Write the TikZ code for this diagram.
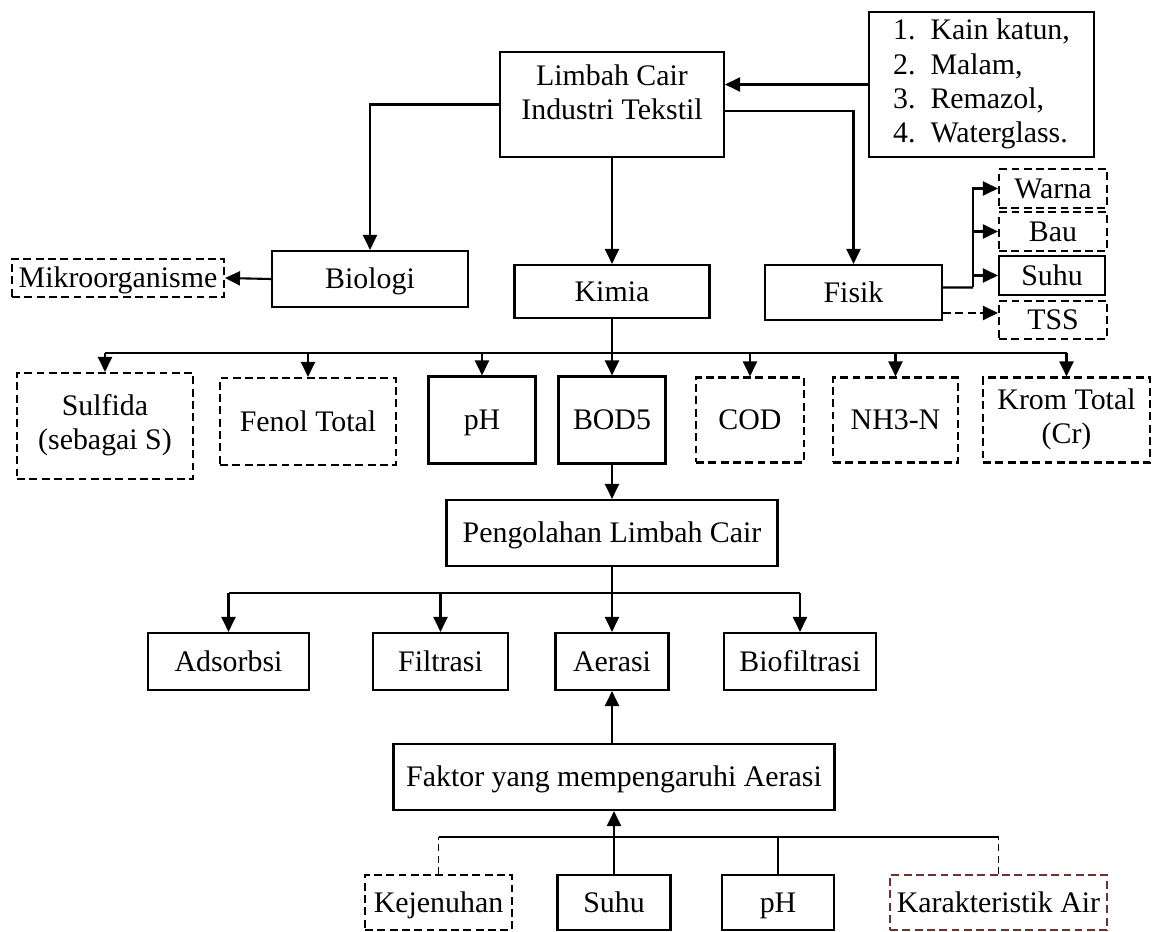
\documentclass[tikz,border=0pt]{standalone}
\usepackage{fontspec}
\setmainfont{Liberation Serif}
\usetikzlibrary{arrows.meta}
\definecolor{karakred}{RGB}{112,48,48}

\begin{document}
\begin{tikzpicture}[
    x=0.02cm, y=-0.02cm,
    font=\fontsize{17}{19.5}\selectfont,
    arr/.style={-{Triangle[length=0.30cm,width=0.28cm]}, line width=1.2pt},
    garis/.style={line width=1.2pt},
    tipis/.style={line width=0.6pt},
    kotak/.style={
      draw, line width=1.2pt, align=center, inner sep=1pt,
      execute at begin node={\rule[-0.25em]{0pt}{1.16em}}
    },
    putus/.style={
      kotak, dash pattern=on 4.5pt off 2.5pt
    },
    putustipis/.style={tipis, dash pattern=on 4pt off 2.5pt}
  ]
    \useasboundingbox (0,0) rectangle (1156,932);

    % --- Sumber limbah ---
    \node[kotak, minimum width=4.48cm, minimum height=2.10cm]
      (limbah) at (612,104.5) {};
    \node[align=center] (limbahtxt) at (612,92)
      {Limbah Cair\\Industri Tekstil};
    \node[kotak, minimum width=4.50cm, minimum height=2.90cm]
      (bahan) at (981.5,84.5)
      {\begin{tabular}{@{}l@{\hspace{0.3cm}}l@{}}
        1. & Kain katun,\\
        2. & Malam,\\
        3. & Remazol,\\
        4. & Waterglass.
      \end{tabular}};

    % --- Karakteristik ---
    \node[kotak, minimum width=3.92cm, minimum height=1.12cm]
      (biologi) at (370,279) {Biologi};
    \node[putus, minimum width=4.24cm, minimum height=0.76cm]
      (mikro) at (118,278) {Mikroorganisme};
    \node[kotak, minimum width=3.90cm, minimum height=1.06cm]
      (kimia) at (612,291.5) {Kimia};
    \node[kotak, minimum width=3.54cm, minimum height=1.10cm]
      (fisik) at (853.5,292.5) {Fisik};
    \node[putus, minimum width=2.16cm, minimum height=0.74cm]
      (warna) at (1053,188.5) {Warna};
    \node[putus, minimum width=2.16cm, minimum height=0.74cm]
      (bau) at (1053,231.5) {Bau};
    \node[kotak, minimum width=2.12cm, minimum height=0.74cm]
      (suhuf) at (1052,275.5) {Suhu};
    \node[putus, minimum width=2.16cm, minimum height=0.72cm]
      (tss) at (1053,320) {TSS};
    \coordinate (fj) at (973,287.5);

    % --- Parameter kimia ---
    \coordinate (bus1) at (612,353);
    \node[putus, minimum width=3.52cm, minimum height=2.12cm]
      (sulfida) at (105,426) {Sulfida\\(sebagai S)};
    \node[putus, minimum width=3.52cm, minimum height=1.74cm]
      (fenol) at (308,421.5) {Fenol Total};
    \node[kotak, minimum width=2.14cm, minimum height=1.74cm]
      (phk) at (482,420) {pH};
    \node[kotak, minimum width=2.14cm, minimum height=1.74cm]
      (bod) at (612,420) {BOD5};
    \node[putus, minimum width=2.16cm, minimum height=1.70cm]
      (cod) at (750,420) {COD};
    \node[putus, minimum width=2.50cm, minimum height=1.70cm]
      (nh3) at (895.5,420) {NH3-N};
    \node[putus, minimum width=3.34cm, minimum height=1.70cm]
      (krom) at (1066.5,420) {Krom Total\\(Cr)};

    % --- Pengolahan ---
    \node[kotak, minimum width=6.62cm, minimum height=1.32cm]
      (olah) at (612,533) {Pengolahan Limbah Cair};
    \coordinate (bus2) at (612,593);
    \node[kotak, minimum width=3.22cm, minimum height=1.14cm]
      (adsorbsi) at (228.5,661.5) {Adsorbsi};
    \node[kotak, minimum width=2.70cm, minimum height=1.14cm]
      (filtrasi) at (440.5,661.5) {Filtrasi};
    \node[kotak, minimum width=2.26cm, minimum height=1.14cm]
      (aerasi) at (612,661.5) {Aerasi};
    \node[kotak, minimum width=3.04cm, minimum height=1.14cm]
      (biofiltrasi) at (800,661.5) {Biofiltrasi};

    % --- Faktor aerasi ---
    \node[kotak, minimum width=8.82cm, minimum height=1.32cm]
      (faktor) at (614,777) {Faktor yang mempengaruhi Aerasi};
    \coordinate (bus3) at (614,837);
    \node[putus, minimum width=2.94cm, minimum height=1.10cm]
      (jenuh) at (438.5,902.5) {Kejenuhan};
    \node[kotak, minimum width=2.26cm, minimum height=1.10cm]
      (suhua) at (614,902.5) {Suhu};
    \node[kotak, minimum width=2.24cm, minimum height=1.10cm]
      (pha) at (778,902.5) {pH};
    \node[putus, draw=karakred, minimum width=4.34cm, minimum height=1.10cm]
      (karak) at (998.5,902.5) {Karakteristik Air};

    % --- Panah ---
    \draw[arr] (bahan.west) -- (bahan.west -| limbah.east);
    \draw[arr] (limbah.west) -| (biologi.north);
    \draw[arr] (limbah.south) -- (kimia.north);
    \draw[arr] ([yshift=-0.13cm]limbah.east) -| (fisik.north);
    \draw[arr] (biologi.west) -- (mikro.east);
    \draw[garis] ([yshift=0.1cm]fisik.east) -- (fj);
    \draw[arr] (fj) |- (warna.west);
    \draw[arr] (fj) |- (bau.west);
    \draw[arr] (fj) -- (fj |- suhuf.west) -- (suhuf.west);
    \draw[arr, dash pattern=on 4.5pt off 2.5pt]
      ([yshift=-0.41cm]fisik.east) -- ([yshift=-0.41cm]fisik.east -| tss.west);

    \draw[garis] (sulfida.north |- bus1) -- (krom.north |- bus1);
    \draw[arr] (kimia.south) -- (bod.north);
    \draw[arr] (sulfida.north |- bus1) -- (sulfida.north);
    \draw[arr] (fenol.north |- bus1) -- (fenol.north);
    \draw[arr] (phk.north |- bus1) -- (phk.north);
    \draw[arr] (cod.north |- bus1) -- (cod.north);
    \draw[arr] (nh3.north |- bus1) -- (nh3.north);
    \draw[arr] (krom.north |- bus1) -- (krom.north);
    \draw[arr] (bod.south) -- (olah.north);

    \draw[garis] (adsorbsi.north |- bus2) -- (biofiltrasi.north |- bus2);
    \draw[arr] (olah.south) -- (aerasi.north);
    \draw[arr] (adsorbsi.north |- bus2) -- (adsorbsi.north);
    \draw[arr] (filtrasi.north |- bus2) -- (filtrasi.north);
    \draw[arr] (biofiltrasi.north |- bus2) -- (biofiltrasi.north);
    \draw[arr] (faktor.north -| aerasi.south) -- (aerasi.south);

    \draw[garis] (jenuh.north |- bus3) -- (karak.north |- bus3);
    \draw[arr] (suhua.north) -- (faktor.south);
    \draw[putustipis] (jenuh.north) -- (jenuh.north |- bus3);
    \draw[tipis] (pha.north) -- (pha.north |- bus3);
    \draw[putustipis] (karak.north) -- (karak.north |- bus3);
  \end{tikzpicture}
\end{document}
